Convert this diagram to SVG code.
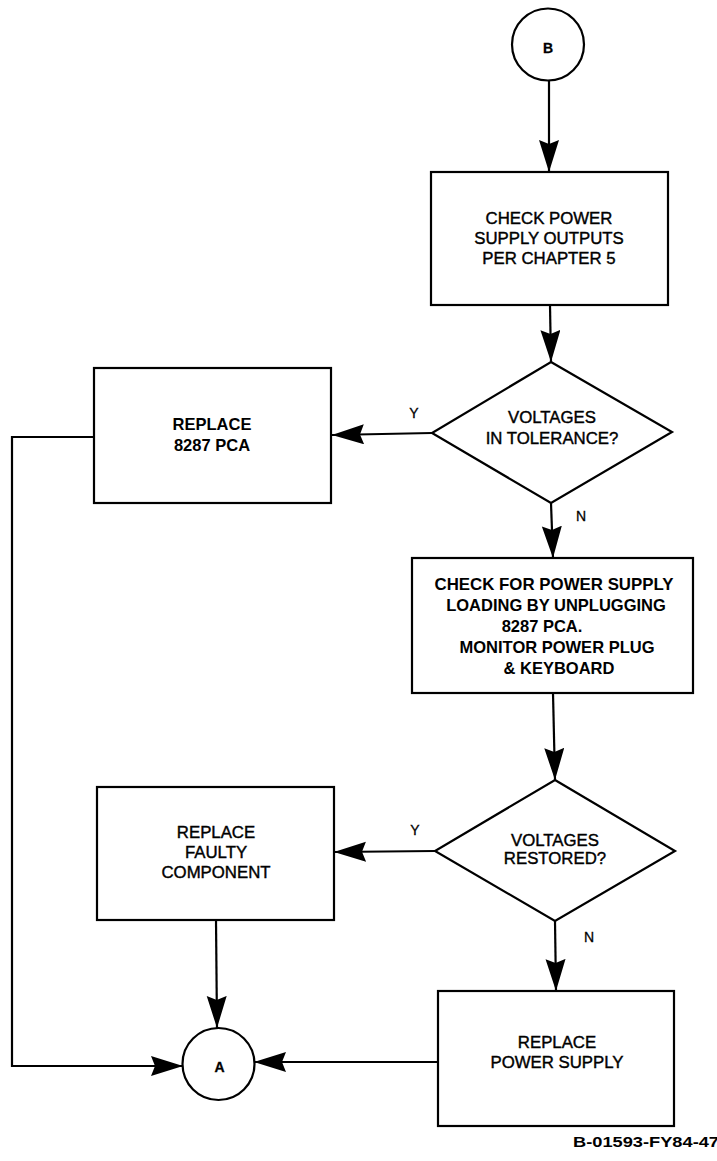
<svg xmlns="http://www.w3.org/2000/svg" width="717" height="1161" viewBox="0 0 717 1161">
<defs>
<marker id="ah" markerUnits="userSpaceOnUse" markerWidth="34" markerHeight="22" refX="32" refY="10" orient="auto">
<path d="M0,0 L32,10 L0,20 L4,10 z" fill="#000"/>
</marker>
<style>
.sh{fill:#fff;stroke:#000;stroke-width:2.2}
.ln{fill:none;stroke:#000;stroke-width:2.2;marker-end:url(#ah)}
text{font-family:"Liberation Sans",Arial,sans-serif;fill:#000;text-anchor:middle}
.r{font-size:16.8px;stroke:#000;stroke-width:0.4}
.b{font-size:16.5px;font-weight:bold}
.l{font-size:14px;stroke:#000;stroke-width:0.3}
</style>
</defs>
<rect width="717" height="1161" fill="#fff"/>
<g id="connectors">
<line class="ln" x1="549" y1="81" x2="549" y2="172"/>
<line class="ln" x1="550" y1="305" x2="551" y2="362"/>
<line class="ln" x1="432" y1="433" x2="332" y2="435"/>
<line class="ln" x1="551" y1="503" x2="553" y2="558"/>
<line class="ln" x1="553" y1="693" x2="555" y2="780"/>
<line class="ln" x1="435" y1="851" x2="334" y2="852"/>
<line class="ln" x1="555" y1="921" x2="556" y2="991"/>
<line class="ln" x1="216" y1="920" x2="217" y2="1028"/>
<polyline class="ln" points="94,437 12,437 12,1066 183,1066"/>
<line class="ln" x1="438" y1="1062" x2="254" y2="1062"/>
</g>
<g id="nodeB">
<circle class="sh" cx="548" cy="44.5" r="36"/>
<text class="l" x="548" y="53" font-weight="bold">B</text>
</g>
<g id="box1">
<rect class="sh" x="431" y="172" width="237" height="133"/>
<text class="r" x="549" y="224">CHECK POWER</text>
<text class="r" x="549" y="244">SUPPLY OUTPUTS</text>
<text class="r" x="549" y="264">PER CHAPTER 5</text>
</g>
<g id="dec1">
<polygon class="sh" points="551,362 672,432 551,503 432,433"/>
<text class="r" x="552" y="423">VOLTAGES</text>
<text class="r" x="552" y="444">IN TOLERANCE?</text>
<text class="l" x="414" y="418">Y</text>
<text class="l" x="581" y="521">N</text>
</g>
<g id="box2">
<rect class="sh" x="94" y="368" width="237" height="135"/>
<text class="b" x="212" y="430">REPLACE</text>
<text class="b" x="212" y="451">8287 PCA</text>
</g>
<g id="box3">
<rect class="sh" x="412" y="558" width="281" height="135"/>
<text class="b" x="554" y="590" textLength="239" lengthAdjust="spacingAndGlyphs">CHECK FOR POWER SUPPLY</text>
<text class="b" x="556" y="611">LOADING BY UNPLUGGING</text>
<text class="b" x="542" y="632">8287 PCA.</text>
<text class="b" x="557" y="653">MONITOR POWER PLUG</text>
<text class="b" x="559" y="674">&amp; KEYBOARD</text>
</g>
<g id="dec2">
<polygon class="sh" points="555,780 675,851 555,921 435,851"/>
<text class="r" x="555" y="846">VOLTAGES</text>
<text class="r" x="555" y="864">RESTORED?</text>
<text class="l" x="415" y="835">Y</text>
<text class="l" x="589" y="942">N</text>
</g>
<g id="box4">
<rect class="sh" x="97" y="787" width="237" height="133"/>
<text class="r" x="216" y="838">REPLACE</text>
<text class="r" x="216" y="858">FAULTY</text>
<text class="r" x="216" y="878">COMPONENT</text>
</g>
<g id="box5">
<rect class="sh" x="438" y="991" width="236" height="135"/>
<text class="r" x="557" y="1048">REPLACE</text>
<text class="r" x="557" y="1068">POWER SUPPLY</text>
</g>
<g id="nodeA">
<circle class="sh" cx="218.5" cy="1064" r="36"/>
<text class="l" x="219.5" y="1072" font-weight="bold">A</text>
</g>
<text x="573" y="1147" style="text-anchor:start;font-size:15.5px;font-weight:bold" textLength="146" lengthAdjust="spacingAndGlyphs">B-01593-FY84-47</text>
</svg>
